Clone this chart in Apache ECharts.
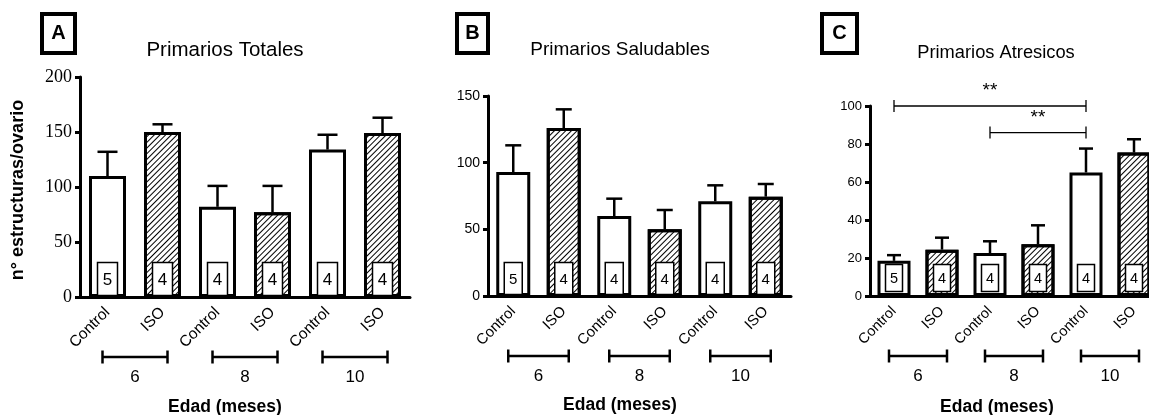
<!DOCTYPE html>
<html>
<head>
<meta charset="utf-8">
<script src="https://cdn.jsdelivr.net/npm/echarts@6/dist/echarts.min.js"></script>
<style>html,body{margin:0;padding:0;background:#fff;overflow:hidden}#c{width:1160px;height:415px}</style>
</head>
<body>
<div id="c"></div>
<script>
// ---- data ----
var categories = ['Control', 'ISO', 'Control', 'ISO', 'Control', 'ISO'];
var groupLabels = ['6', '8', '10'];
var nValues = [5, 4, 4, 4, 4, 4];

var totalesMean = [110, 150, 82, 77, 134, 149];
var totalesErr  = [22, 7, 19, 24, 13.5, 14];

var saludablesMean = [93, 126, 60, 50, 71, 74.5];
var saludablesErr  = [20, 14, 13, 14.5, 12, 9.5];

var atresicosMean = [18.5, 24.4, 22.6, 27.2, 65, 75.5];
var atresicosErr  = [3, 6.3, 6.2, 10, 12.6, 7];

// significance: [fromIndex, toIndex, value, label]
var atresicosSig = [[0, 4, 100, '**'], [2, 4, 86, '**']];

var titles = ['Primarios Totales', 'Primarios Saludables', 'Primarios Atresicos'];
var panelLetters = ['A', 'B', 'C'];

// ---- layout ----
var panels = [
  {left: 80, width: 330, top: 77, height: 220, max: 200, interval: 50, barW: 37, capW: 20, boxW: 20, boxH: 33, boxLift: 0, boxFont: 17,
   yFam: 'Liberation Serif', ySize: 18, xFont: 15.5, mean: totalesMean, err: totalesErr},
  {left: 488, width: 303, top: 96, height: 200, max: 150, interval: 50, barW: 34, capW: 16, boxW: 18, boxH: 32, boxLift: 0, boxFont: 15,
   yFam: 'Liberation Sans', ySize: 14, xFont: 15, mean: saludablesMean, err: saludablesErr},
  {left: 870, width: 288, top: 106, height: 190, max: 100, interval: 20, barW: 33, capW: 14, boxW: 17, boxH: 27, boxLift: 3, boxFont: 14.5,
   yFam: 'Liberation Sans', ySize: 13, xFont: 14.5, mean: atresicosMean, err: atresicosErr}
];

var grids = [], xAxes = [], yAxes = [], series = [];
var hatch = {symbol: 'rect', symbolSize: 1, color: '#000', dashArrayX: [1, 0], dashArrayY: [1, 2.1], rotation: -Math.PI / 4};
var C = {align: 'center', verticalAlign: 'middle', textAlign: 'center', textVerticalAlign: 'middle'};
function ts(text, font) { return Object.assign({text: text, fill: '#000', font: font}, C); }

panels.forEach(function (p, k) {
  grids.push({left: p.left, width: p.width, top: p.top, height: p.height, containLabel: false});
  xAxes.push({
    type: 'category', gridIndex: k, data: categories,
    axisLine: {lineStyle: {color: '#000', width: 3}},
    axisTick: {alignWithLabel: true, length: 6, lineStyle: {color: '#000', width: 3}},
    axisLabel: {rotate: 45, color: '#000', fontFamily: 'Liberation Sans', fontSize: p.xFont, margin: 13, interval: 0}
  });
  yAxes.push({
    type: 'value', gridIndex: k, min: 0, max: p.max, interval: p.interval,
    splitLine: {show: false},
    axisLine: {show: true, lineStyle: {color: '#000', width: 3}},
    axisTick: {show: true, length: 5, lineStyle: {color: '#000', width: 3}},
    axisLabel: {color: '#000', fontFamily: p.yFam, fontSize: p.ySize, margin: 8}
  });
  series.push({
    type: 'bar', xAxisIndex: k, yAxisIndex: k, barWidth: p.barW, z: 2,
    data: p.mean.map(function (v, i) {
      var st = {color: '#fff', borderColor: '#000', borderWidth: 3};
      if (i % 2 === 1) st.decal = hatch;
      return {value: v, itemStyle: st};
    })
  });
  // error bars
  series.push({
    type: 'custom', xAxisIndex: k, yAxisIndex: k, z: 3,
    data: p.mean.map(function (v, i) { return [i, v, p.err[i]]; }),
    renderItem: function (params, api) {
      var a = api.coord([api.value(0), api.value(1)]);
      var b = api.coord([api.value(0), api.value(1) + api.value(2)]);
      var ls = {stroke: '#000', lineWidth: 2.5};
      return {type: 'group', children: [
        {type: 'line', shape: {x1: a[0], y1: a[1], x2: b[0], y2: b[1]}, style: ls},
        {type: 'line', shape: {x1: b[0] - p.capW / 2, y1: b[1], x2: b[0] + p.capW / 2, y2: b[1]}, style: ls}
      ]};
    }
  });
  // n boxes
  series.push({
    type: 'custom', xAxisIndex: k, yAxisIndex: k, z: 4,
    data: nValues.map(function (n, i) { return [i, n]; }),
    renderItem: function (params, api) {
      var c = api.coord([api.value(0), 0]);
      var y0 = c[1] - 1.5 - p.boxLift;
      return {type: 'group', children: [
        {type: 'rect', shape: {x: c[0] - p.boxW / 2, y: y0 - p.boxH, width: p.boxW, height: p.boxH},
         style: {fill: '#fff', stroke: '#000', lineWidth: 1.5}},
        {type: 'text', x: c[0], y: y0 - p.boxH / 2 + 1, style: ts(String(api.value(1)), p.boxFont + 'px "Liberation Sans"')}
      ]};
    }
  });
  // group brackets
  series.push({
    type: 'custom', xAxisIndex: k, yAxisIndex: k, z: 4, clip: false,
    data: groupLabels.map(function (g, j) { return [2 * j, 2 * j + 1]; }),
    renderItem: function (params, api) {
      var a = api.coord([api.value(0), 0]);
      var b = api.coord([api.value(1), 0]);
      var y = a[1] + 60;
      var x1 = a[0] - 5, x2 = b[0] + 5;
      var ls = {stroke: '#000', lineWidth: 2.5};
      return {type: 'group', children: [
        {type: 'line', shape: {x1: x1, y1: y, x2: x2, y2: y}, style: ls},
        {type: 'line', shape: {x1: x1, y1: y - 6.5, x2: x1, y2: y + 6.5}, style: ls},
        {type: 'line', shape: {x1: x2, y1: y - 6.5, x2: x2, y2: y + 6.5}, style: ls},
        {type: 'text', x: (x1 + x2) / 2, y: y + 20, style: ts(groupLabels[params.dataIndex], '17px "Liberation Sans"')}
      ]};
    }
  });
});

// significance lines on panel C
series.push({
  type: 'custom', xAxisIndex: 2, yAxisIndex: 2, z: 5, clip: false,
  data: atresicosSig,
  renderItem: function (params, api) {
    var a = api.coord([api.value(0), api.value(2)]);
    var b = api.coord([api.value(1), api.value(2)]);
    var ls = {stroke: '#000', lineWidth: 1.3};
    return {type: 'group', children: [
      {type: 'line', shape: {x1: a[0], y1: a[1], x2: b[0], y2: b[1]}, style: ls},
      {type: 'line', shape: {x1: a[0], y1: a[1] - 6, x2: a[0], y2: a[1] + 6}, style: ls},
      {type: 'line', shape: {x1: b[0], y1: b[1] - 6, x2: b[0], y2: b[1] + 6}, style: ls},
      {type: 'text', x: (a[0] + b[0]) / 2, y: a[1] - 15, style: ts(atresicosSig[params.dataIndex][3], '19px "Liberation Sans"')}
    ]};
  }
});

// ---- texts ----
var letterBoxes = [[42, 457, 822], [33, 31, 35]];
var titleX = [225, 620, 996], titleY = [50, 50, 53], titleSize = [20.5, 19, 18.3];
var xNameX = [225, 620, 997], xNameY = [407, 405, 407];
var graphic = [];
panelLetters.forEach(function (L, k) {
  var bx = letterBoxes[0][k], bw = letterBoxes[1][k];
  graphic.push({type: 'rect', shape: {x: bx, y: 14, width: bw, height: 39}, style: {fill: '#fff', stroke: '#000', lineWidth: 4}});
  graphic.push({type: 'text', x: bx + bw / 2, y: 33, style: ts(L, 'bold 20px "Liberation Sans"')});
  graphic.push({type: 'text', x: titleX[k], y: titleY[k], style: ts(titles[k], titleSize[k] + 'px "Liberation Sans"')});
  graphic.push({type: 'text', x: xNameX[k], y: xNameY[k], style: ts('Edad (meses)', 'bold 17.5px "Liberation Sans"')});
});
graphic.push({type: 'text', x: 18, y: 190, rotation: Math.PI / 2, style: ts('n° estructuras/ovario', 'bold 18px "Liberation Sans"')});

var chart = echarts.init(document.getElementById('c'), null, {renderer: 'canvas'});
chart.setOption({
  animation: false,
  backgroundColor: '#fff',
  grid: grids, xAxis: xAxes, yAxis: yAxes, series: series, graphic: graphic
});
</script>
</body>
</html>
